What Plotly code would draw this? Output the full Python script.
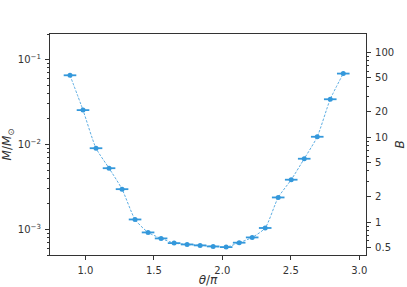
import numpy as np
import plotly.graph_objects as go

theta = [0.888, 0.983, 1.078, 1.173, 1.268, 1.363, 1.458, 1.553, 1.648, 1.743, 1.838,
         1.933, 2.028, 2.123, 2.218, 2.313, 2.408, 2.503, 2.598, 2.693, 2.788, 2.883]
mass = [0.0653, 0.0254, 0.00904, 0.00526, 0.00298, 0.00131, 0.000922, 0.000784,
        0.000690, 0.000666, 0.000649, 0.000631, 0.000619, 0.000698, 0.000805,
        0.00104, 0.00238, 0.00385, 0.00680, 0.01233, 0.0341, 0.0684]
theta_err = [0.046] * len(theta)
mass_err = [0.04 * m for m in mass]

B_ticks = [0.5, 1, 2, 5, 10, 20, 50, 100]
B_range = [0.41, 164]
M_ticks = [1e-3, 1e-2, 1e-1]
M_ticktext = ["10<sup>−3</sup>", "10<sup>−2</sup>", "10<sup>−1</sup>"]
x_ticks = [1.0, 1.5, 2.0, 2.5, 3.0]

color = "#3498db"
font = "DejaVu Sans"

fig = go.Figure()
fig.add_trace(go.Scatter(
    x=theta, y=mass, mode="lines+markers",
    line=dict(color=color, width=0.8, dash="2.5px,1.5px", shape="spline", smoothing=0.6),
    marker=dict(color=color, size=5),
    error_x=dict(type="data", array=theta_err, color=color, thickness=1.8, width=0),
    error_y=dict(type="data", array=mass_err, color=color, thickness=1.0, width=0),
    showlegend=False, hoverinfo="skip",
))
fig.add_trace(go.Scatter(
    x=[theta[0], theta[-1]], y=B_range, yaxis="y2", mode="markers",
    marker=dict(opacity=0), showlegend=False, hoverinfo="skip",
))

axis_common = dict(
    showgrid=False, zeroline=False, showline=True, linecolor="#333333", linewidth=1.2,
    ticks="outside", ticklen=4, tickwidth=1, tickcolor="#333333", automargin=False,
    tickfont=dict(family=font, size=10, color="#333333"),
)

fig.update_layout(
    width=407, height=287,
    margin=dict(l=50, r=41, t=34, b=32),
    paper_bgcolor="white", plot_bgcolor="white",
    font=dict(family=font, color="#333333"),
    xaxis=dict(
        range=[0.742, 3.049], tickvals=x_ticks, ticktext=["1.0", "1.5", "2.0", "2.5", "3.0"],
        mirror=True, ticklabelstandoff=2,
        title=dict(text="<i>θ</i>/<i>π</i>", font=dict(family=font, size=12), standoff=1),
        **axis_common,
    ),
    yaxis=dict(
        type="log", range=[np.log10(5.0e-4), np.log10(0.2)],
        tickvals=M_ticks, ticktext=M_ticktext, ticklabelstandoff=2,
        minor=dict(ticks="outside", ticklen=2, tickcolor="#333333", dtick="D1"),
        title=dict(text="<i>M</i>/<i>M</i><sub>⊙</sub>", font=dict(family=font, size=12), standoff=4),
        **axis_common,
    ),
    yaxis2=dict(
        type="log", overlaying="y", side="right", anchor="x",
        range=[np.log10(B_range[0]), np.log10(B_range[1])],
        tickvals=B_ticks, ticktext=[str(v) for v in B_ticks], ticklabelstandoff=2,
        minor=dict(ticks="outside", ticklen=2, tickcolor="#333333", dtick="D1"),
        title=dict(text="<i>B</i>", font=dict(family=font, size=12), standoff=6),
        **axis_common,
    ),
)

fig.write_html("out.html", config={"displayModeBar": False},
               post_script="document.body.style.margin='0';")
